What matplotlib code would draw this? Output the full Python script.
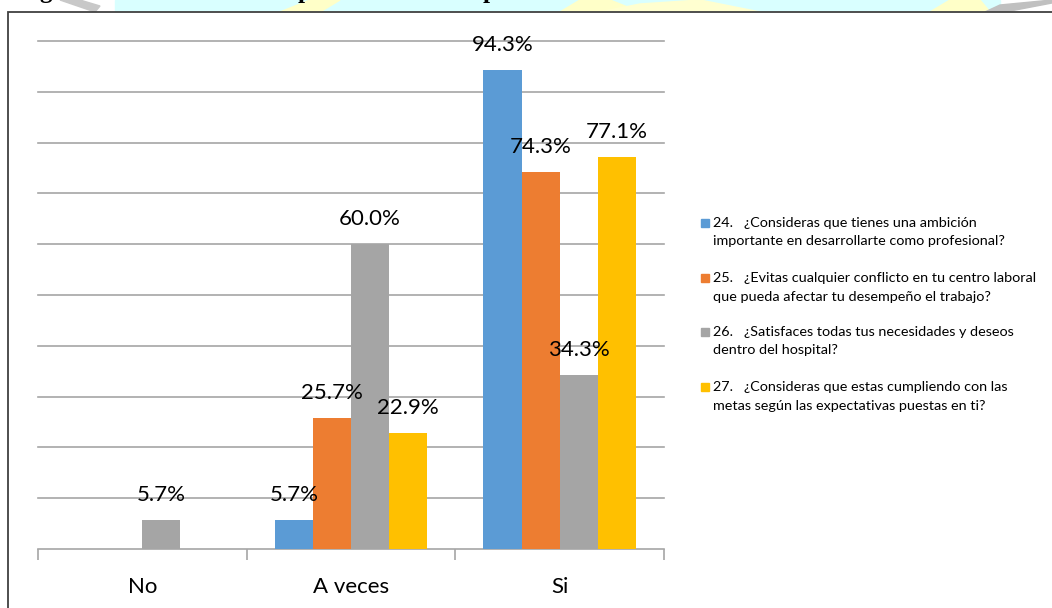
import matplotlib.pyplot as plt
from matplotlib.patches import Rectangle, Polygon
import numpy as np

categories = ["No", "A veces", "Si"]
questions = [
    "24.   ¿Consideras que tienes una ambición\nimportante en desarrollarte como profesional?",
    "25.   ¿Evitas cualquier conflicto en tu centro laboral\nque pueda afectar tu desempeño el trabajo?",
    "26.   ¿Satisfaces todas tus necesidades y deseos\ndentro del hospital?",
    "27.   ¿Consideras que estas cumpliendo con las\nmetas según las expectativas puestas en ti?",
]
q24 = [0.0, 5.7, 94.3]
q25 = [0.0, 25.7, 74.3]
q26 = [5.7, 60.0, 34.3]
q27 = [0.0, 22.9, 77.1]
series = [q24, q25, q26, q27]
colors = ["#5B9BD5", "#ED7D31", "#A5A5A5", "#FFC000"]

W, H = 1052, 608
plt.rcParams["font.family"] = ["Lato", "DejaVu Sans"]

fig = plt.figure(figsize=(W / 100, H / 100), dpi=100)
fig.patch.set_facecolor("white")


def px(x, y):
    # pixel position (from top-left) -> figure fraction
    return x / W, 1 - y / H


# page background strip above the chart frame
fig.patches.append(Rectangle(px(115, 12), (1000 - 115) / W, 12 / H,
                             transform=fig.transFigure, color="#D9FFFF", zorder=0))
for pts, col in [
    ([(280, 12), (310, 0), (340, 0), (320, 12)], "#FFFFC8"),
    ([(560, 12), (580, 0), (610, 0), (640, 12)], "#FFFFC8"),
    ([(600, 12), (640, 4), (700, 0), (760, 12)], "#FFFFD0"),
    ([(930, 12), (950, 0), (980, 0), (990, 12)], "#FFFFC8"),
    ([(60, 0), (80, 0), (100, 6), (95, 12)], "#C8C8C8"),
    ([(985, 12), (1000, 5), (1052, 0), (1052, 3), (1005, 12)], "#C0C0C0"),
]:
    fig.patches.append(Polygon([px(*p) for p in pts], closed=True,
                               transform=fig.transFigure, color=col, zorder=0))
for x, ch in [(46, "g"), (305, "p"), (490, "p")]:
    fx, fy = px(x, -2)
    fig.text(fx, fy, ch, family="Liberation Serif", fontweight="bold",
             fontsize=18, ha="center", va="baseline", color="black")

# chart frame
fx, fy = px(8, 12)
fig.patches.append(Rectangle((fx, -0.05), 1.1, fy + 0.05, transform=fig.transFigure,
                             facecolor="white", edgecolor="#404040", linewidth=1.3,
                             zorder=1))

ax = fig.add_axes([38 / W, 59 / H, 626 / W, 508 / H])
ax.set_facecolor("none")
ax.set_zorder(2)

x = np.arange(len(categories))
bw = 0.1827
for i, (vals, col) in enumerate(zip(series, colors)):
    offs = (i - 1.5) * bw
    ax.bar(x + offs, vals, width=bw, color=col, zorder=3)
    for xi, v in zip(x, vals):
        if v > 0:
            ax.annotate(f"{v:.1f}%", (xi + offs, v), xytext=(0, 18),
                        textcoords="offset points", ha="center", va="center",
                        fontsize=16, color="black", zorder=4)

ax.set_xlim(-0.5, 2.5)
ax.set_ylim(0, 100)
for yv in range(10, 101, 10):
    ax.axhline(yv, color="#A6A6A6", linewidth=1.2, zorder=1, clip_on=False)

for s in ["top", "right", "left"]:
    ax.spines[s].set_visible(False)
ax.spines["bottom"].set_color("#A6A6A6")
ax.spines["bottom"].set_linewidth(1.2)
ax.set_yticks([])
ax.set_xticks(x)
ax.set_xticklabels(categories, fontsize=16)
ax.set_xticks([-0.5, 0.5, 1.5, 2.5], minor=True)
ax.tick_params(axis="x", which="major", length=0, pad=20)
ax.tick_params(axis="x", which="minor", length=8, width=1.2, color="#A6A6A6",
               direction="out")

# legend
item_y = [223, 278, 332, 387]
for yy, txt, col in zip(item_y, questions, colors):
    sx, sy = px(701, yy + 4)
    fig.patches.append(Rectangle((sx, sy), 8 / W, 8 / H, transform=fig.transFigure,
                                 color=col, zorder=3))
    tx, ty = px(713, yy - 6)
    fig.text(tx, ty, txt, fontsize=10.4, ha="left", va="top", linespacing=1.65,
             color="black", zorder=3)

fig.savefig("out.png", dpi=100)
